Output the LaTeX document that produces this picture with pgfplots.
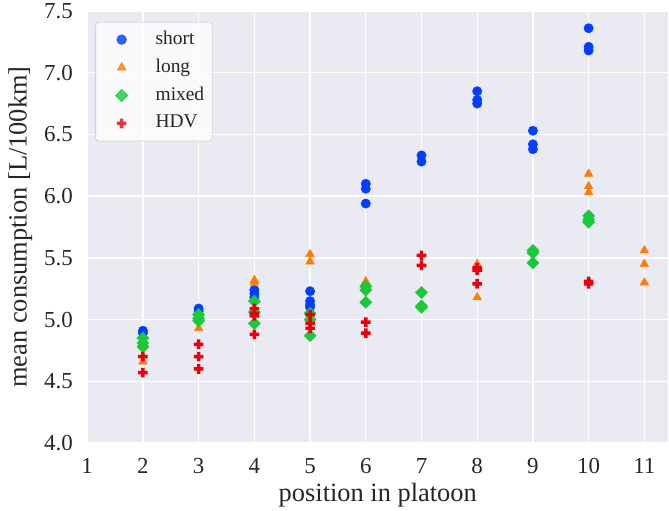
\documentclass[border=0pt]{standalone}
\usepackage{fontspec}
\setmainfont{Liberation Serif}
\usepackage{pgfplots}
\pgfplotsset{compat=1.18}

\definecolor{sbbg}{HTML}{EAEAF2}
\definecolor{sbtext}{HTML}{262626}
\definecolor{cshort}{HTML}{023EFF}
\definecolor{clong}{HTML}{FF7C00}
\definecolor{cmixed}{HTML}{1AC938}
\definecolor{chdv}{HTML}{E8000B}

% filled plus, like matplotlib's 'P'
\pgfdeclareplotmark{fplus}{%
  \pgfpathrectangle{\pgfqpoint{-\pgfplotmarksize}{-0.36\pgfplotmarksize}}{\pgfqpoint{2\pgfplotmarksize}{0.72\pgfplotmarksize}}%
  \pgfpathrectangle{\pgfqpoint{-0.36\pgfplotmarksize}{-\pgfplotmarksize}}{\pgfqpoint{0.72\pgfplotmarksize}{2\pgfplotmarksize}}%
  \pgfusepathqfill}

% legend handle 40bp wide with the marker in its middle, no line
\pgfplotsset{
    wideleg/.style={legend image code/.code={%
        \path[draw=none] (0bp,0bp) -- (40bp,0bp);
        \draw[mark repeat=2,mark phase=2,##1,draw=none] plot coordinates {(0bp,0bp) (20bp,0bp) (40bp,0bp)};}},
}

\begin{document}
\begin{tikzpicture}
\begin{axis}[
    scale only axis,
    width=581bp, height=432bp,
    xmin=1, xmax=11.43,
    ymin=4, ymax=7.5,
    xtick={1,...,11},
    ytick={4,4.5,...,7.5},
    /pgf/number format/assume math mode=true,
    yticklabel style={/pgf/number format/fixed, /pgf/number format/fixed zerofill,
        /pgf/number format/precision=1, xshift=-11pt},
    xticklabel style={yshift=-12pt},
    tick label style={font=\fontsize{23}{25}\selectfont, text=sbtext},
    label style={font=\fontsize{26.5}{28}\selectfont, text=sbtext},
    xlabel={position in platoon},
    ylabel={mean consumption [L/100km]},
    xlabel style={yshift=-2pt},
    ylabel style={yshift=5pt},
    axis background/.style={fill=sbbg},
    axis line style={draw=none},
    tick style={draw=none},
    grid=major,
    major grid style={white, line width=1.4bp},
    legend cell align=left,
    legend style={at={(0.0138,0.975)}, anchor=north west,
        fill=white, fill opacity=0.8, draw opacity=0.8, text opacity=1,
        draw=black!20, rounded corners=3pt, line width=0.8bp,
        font=\fontsize{19.5}{21}\selectfont, text=sbtext,
        inner xsep=6bp, inner ysep=7bp, row sep=7bp,
        nodes={inner sep=2bp, text height=13pt, text depth=4pt},
        /tikz/every odd column/.append style={column sep=12bp}},
]
\addplot[only marks, mark=*, mark size=4.7bp, color=cshort, wideleg] coordinates {
    (2,4.91) (2,4.89)
    (3,5.09) (3,5.07)
    (4,5.24) (4,5.21) (4,5.18)
    (5,5.23) (5,5.15) (5,5.12) (5,5.10)
    (6,6.10) (6,6.06) (6,5.94)
    (7,6.33) (7,6.28)
    (8,6.85) (8,6.78) (8,6.75)
    (9,6.53) (9,6.42) (9,6.38)
    (10,7.36) (10,7.21) (10,7.18)
};
\addplot[only marks, mark=triangle*, mark size=5bp, color=clong, wideleg] coordinates {
    (2,4.83) (2,4.66)
    (3,4.93)
    (4,5.32) (4,5.30)
    (5,5.53) (5,5.47)
    (6,5.31) (6,5.28)
    (8,5.45) (8,5.18)
    (10,6.18) (10,6.08) (10,6.03)
    (11,5.56) (11,5.45) (11,5.30)
};
\addplot[only marks, mark=square*, mark options={rotate=45}, mark size=4.3bp, color=cmixed, wideleg] coordinates {
    (2,4.85) (2,4.81) (2,4.78)
    (3,5.04) (3,5.01) (3,4.99)
    (4,5.15) (4,5.06) (4,4.97)
    (5,5.05) (5,5.00) (5,4.87)
    (6,5.27) (6,5.24) (6,5.14)
    (7,5.22) (7,5.11) (7,5.10)
    (9,5.56) (9,5.54) (9,5.46)
    (10,5.84) (10,5.81) (10,5.79)
};
\addplot[only marks, mark=fplus, mark size=4.8bp, color=chdv, wideleg] coordinates {
    (2,4.70) (2,4.57)
    (3,4.80) (3,4.70) (3,4.60)
    (4,5.09) (4,5.05) (4,5.03) (4,4.88)
    (5,5.04) (5,4.97) (5,4.93)
    (6,4.98) (6,4.89)
    (7,5.52) (7,5.44)
    (8,5.42) (8,5.40) (8,5.29)
    (10,5.31) (10,5.29)
};
\legend{short, long, mixed, HDV}
\end{axis}
% blank margin left of the y label, as in the reference
\path ([xshift=-5bp]current bounding box.west);
\end{tikzpicture}
\end{document}
